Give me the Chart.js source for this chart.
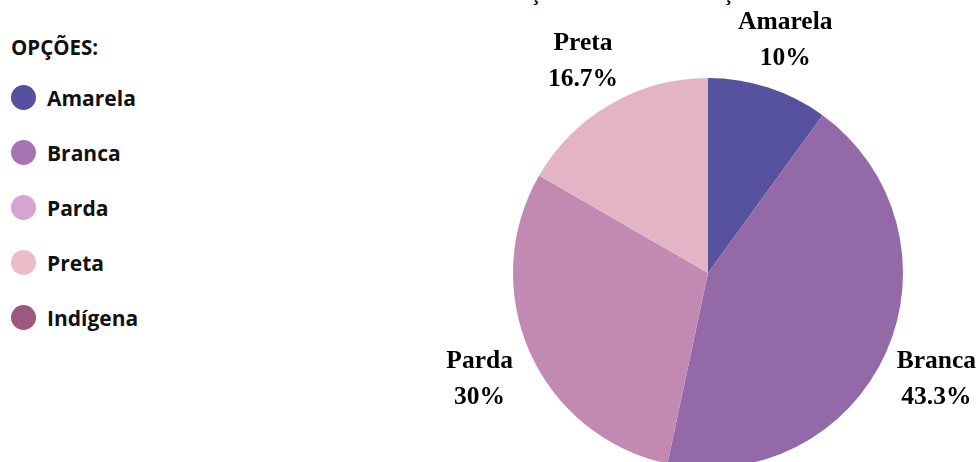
<!DOCTYPE html>
<html>
<head>
<meta charset="utf-8">
<script src="https://cdn.jsdelivr.net/npm/chart.js@4.4.1/dist/chart.umd.min.js"></script>
<style>
    body { margin: 0; width: 977px; height: 462px; overflow: hidden; position: relative; background: #fff; }
    #title { position: absolute; top: -17px; left: 374px; font: bold 20px "Liberation Serif", serif; line-height: 20px; white-space: nowrap; color: #000; letter-spacing: -0.2px; }
    #legend { position: absolute; left: 11px; top: 34px; font-family: "Open Sans", sans-serif; font-weight: 700; font-size: 21px; color: #111; }
    #legend .head { height: 27px; line-height: 27px; margin-bottom: 9px; font-size: 20.5px; }
    #legend .item { display: flex; align-items: center; height: 55px; }
    #legend .dot { width: 25px; height: 25px; border-radius: 50%; margin-right: 11px; }
    #wrap { position: absolute; left: 0; top: 0; width: 977px; height: 520px; }
</style>
</head>
<body>
<div id="title">AUTODECLARAÇÃO DE COR OU RAÇA</div>
<div id="legend"><div class="head">OPÇÕES:</div></div>
<div id="wrap"><canvas id="pieChart"></canvas></div>
<script>
const categories = ["Amarela", "Branca", "Parda", "Preta", "Indígena"];
const counts = [3, 13, 9, 5, 0];
const sliceColors = ["#56529D", "#9469A8", "#C28AB3", "#E3B4C5", "#9F5680"];
const legendColors = ["#55519E", "#A873B2", "#D6A4D0", "#EDBCC9", "#9F5680"];

// html legend on the left
const legendBox = document.getElementById('legend');
categories.forEach((label, i) => {
    const row = document.createElement('div');
    row.className = 'item';
    row.innerHTML = '<span class="dot" style="background:' + legendColors[i] + '"></span>' + label;
    legendBox.appendChild(row);
});

// labels outside the slices
const outsideLabels = {
    id: 'outsideLabels',
    afterDatasetsDraw(chart) {
        const ctx = chart.ctx;
        const data = chart.data.datasets[0].data;
        const total = data.reduce((a, b) => a + b, 0);
        ctx.save();
        ctx.font = 'bold 25.5px "Liberation Serif", serif';
        ctx.fillStyle = '#000';
        ctx.textAlign = 'center';
        ctx.textBaseline = 'middle';
        chart.getDatasetMeta(0).data.forEach((arc, i) => {
            if (!data[i]) return;
            const mid = (arc.startAngle + arc.endAngle) / 2;
            const r = arc.outerRadius + 55;
            const x = arc.x + Math.cos(mid) * r;
            const y = arc.y + Math.sin(mid) * r + 5;
            const pct = Math.round(data[i] / total * 1000) / 10;
            ctx.fillText(chart.data.labels[i], x, y - 18);
            ctx.fillText(pct + '%', x, y + 18);
        });
        ctx.restore();
    }
};

new Chart(document.getElementById('pieChart'), {
    type: 'pie',
    data: {
        labels: categories,
        datasets: [{
            data: counts,
            backgroundColor: sliceColors,
            borderWidth: 0
        }]
    },
    options: {
        responsive: true,
        maintainAspectRatio: false,
        animation: false,
        layout: { padding: { left: 513, right: 74, top: 78, bottom: 52 } },
        plugins: {
            legend: { display: false },
            tooltip: { enabled: false }
        }
    },
    plugins: [outsideLabels]
});
</script>
</body>
</html>
